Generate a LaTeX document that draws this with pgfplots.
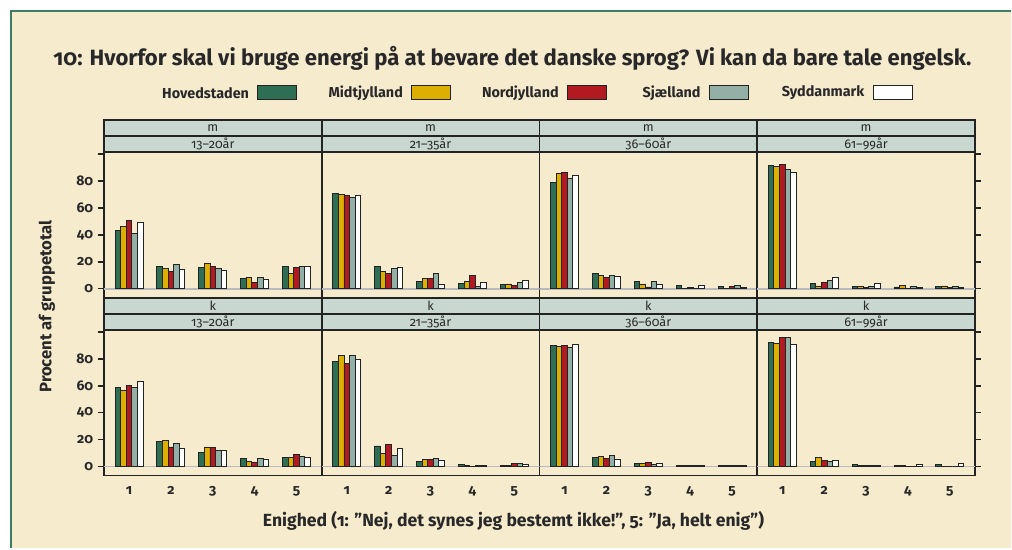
\documentclass[border=0pt]{standalone}
\usepackage{pgfplots}
\pgfplotsset{compat=1.18}
\usepackage{pgfplotstable}
\usepackage{fontspec}
\setmainfont{Fira Sans}[Numbers=OldStyle]

\definecolor{bg}{RGB}{247,235,206}
\definecolor{frame}{RGB}{62,125,100}
\definecolor{cH}{RGB}{46,110,85}
\definecolor{cM}{RGB}{221,176,0}
\definecolor{cN}{RGB}{176,26,32}
\definecolor{cS}{RGB}{146,176,166}
\definecolor{cY}{RGB}{255,255,255}
\definecolor{strip}{RGB}{200,216,208}
\definecolor{ax}{RGB}{35,35,35}
\definecolor{txt}{RGB}{40,40,40}
\definecolor{zl}{RGB}{185,185,190}

\pgfplotstableread{
x H M N S Y
1 43.5 46 50.5 41 49
2 16.75 14.75 12.5 17.75 14
3 15.75 18.75 16.25 15.25 13.5
4 7.5 8.5 4.75 8.5 6.5
5 16.25 11 15.5 16.5 16.5
}\mA
\pgfplotstableread{
x H M N S Y
1 71 70.25 69 67.75 69.25
2 16.25 12.75 11 14.75 16
3 5.5 7.5 7.25 11 3.5
4 3.75 5.5 10 1.75 4.75
5 3 3.5 2.25 4.5 6
}\mB
\pgfplotstableread{
x H M N S Y
1 79 85.75 86.25 82.25 84.25
2 11 9.5 8.5 9.5 9
3 5.25 3.5 1.25 5.5 3.25
4 2.5 0.5 1 0.5 2.25
5 1.75 0 1.75 2.5 1
}\mC
\pgfplotstableread{
x H M N S Y
1 91.75 90.75 92.5 88.25 86.25
2 3.75 2 4.25 6.25 8.5
3 1.5 1.75 1 1.75 3.75
4 1.25 2.5 0 1.75 0.75
5 1.5 2 1 1.75 0.75
}\mD
\pgfplotstableread{
x H M N S Y
1 58.5 56.75 60.25 58.75 63.25
2 18.25 19 14.5 17.25 13.75
3 10.25 14.5 14.25 11.75 11.75
4 6 3.75 3.25 5.75 5
5 6.75 7 8.75 7.5 6.5
}\kA
\pgfplotstableread{
x H M N S Y
1 78 82.75 76.75 82.25 79.25
2 15.25 10 16 8 13.25
3 3.5 5.25 5.25 6.25 4.75
4 1.75 0.75 0 0.5 1
5 1 1 2 2.5 1.75
}\kB
\pgfplotstableread{
x H M N S Y
1 89.75 89.5 89.75 88.5 90.5
2 6.75 7.5 6 8 5.5
3 2.25 2.25 3.25 1.75 2.5
4 0.5 0.5 0.5 1 0.75
5 0.75 0.5 0.75 1 1
}\kC
\pgfplotstableread{
x H M N S Y
1 92.25 91.25 95.75 95.75 91
2 3.5 6.75 4.5 3.5 4.75
3 1.25 1 0.5 0.75 0.75
4 0.5 0.5 0.25 0.25 1.5
5 1.75 0 0 0 2
}\kD

\pgfplotsset{
 panel/.style={
  scale only axis, width=163.5pt, height=109.5pt, anchor=north west,
  xmin=0.4, xmax=5.6, ymin=-6.7, ymax=101.7,
  axis line style={line width=1.4pt, color=ax},
  ybar, bar width=0.1336,
  ytick={0,20,40,60,80,100}, yticklabels={0,20,40,60,80,{}},
  tick align=outside, major tick length=4.5pt,
  every tick/.style={line width=1.2pt, color=ax},
  xtick={1,2,3,4,5}, xticklabels={1,2,3,4,5},
  x tick style={draw=none},
  ticklabel style={font=\fontsize{10.5}{12}\selectfont\bfseries, text=txt},
  /pgf/number format/assume math mode=true,
  every axis plot/.append style={draw=ax, line width=0.7pt},
 },
 top/.style={xtick=\empty},
 c1/.style={ytick pos=left},
 cm/.style={ytick=\empty},
 c4/.style={ytick pos=right, yticklabels={}},
}

\newcommand{\panel}[4]{%
\begin{axis}[panel, at={({#1*0.75pt},{-#2*0.75pt})}, #4]
\draw[zl, line width=1.3pt] (axis cs:0.4,0) -- (axis cs:5.6,0);
\addplot[fill=cH, bar shift=-0.2672] table[x=x,y=H]{#3};
\addplot[fill=cM, bar shift=-0.1336] table[x=x,y=M]{#3};
\addplot[fill=cN, bar shift=0] table[x=x,y=N]{#3};
\addplot[fill=cS, bar shift=0.1336] table[x=x,y=S]{#3};
\addplot[fill=cY, bar shift=0.2672] table[x=x,y=Y]{#3};
\end{axis}}

\begin{document}
\begin{tikzpicture}[x=0.75pt,y=-0.75pt]
\fill[white] (0,0) rectangle (1012,549);
\fill[bg] (10,10) rectangle (1012,549);
\draw[frame, line width=1.6pt] (11,549) -- (11,11) -- (1012,11);

\node[font=\fontsize{16.6}{19}\selectfont\bfseries, text=txt] at (513,58)
 {10: Hvorfor skal vi bruge energi på at bevare det danske sprog? Vi kan da bare tale engelsk.};

% legend
\foreach \xl/\c/\n in {258/cH/Hovedstaden, 412/cM/Midtjylland, 568/cN/Nordjylland, 710/cS/Sjælland, 874/cY/Syddanmark}{
  \fill[\c, draw=ax, line width=0.8pt] (\xl,86) rectangle ++(39,14);
  \node[anchor=east, font=\fontsize{10.8}{12}\selectfont\bfseries, text=txt] at (\xl-4,93) {\n};
}

\panel{104}{152}{\mA}{top,c1}
\panel{322}{152}{\mB}{top,cm}
\panel{540}{152}{\mC}{top,cm}
\panel{758}{152}{\mD}{top,c4}
\panel{104}{330}{\kA}{c1}
\panel{322}{330}{\kB}{cm}
\panel{540}{330}{\kC}{cm}
\panel{758}{330}{\kD}{c4}

% strips
\foreach \xl/\ag in {104/13–20år, 322/21–35år, 540/36–60år, 758/61–99år}{
  \filldraw[fill=strip, draw=ax, line width=1.4pt] (\xl,120) rectangle ++(218,16);
  \filldraw[fill=strip, draw=ax, line width=1.4pt] (\xl,136) rectangle ++(218,16);
  \filldraw[fill=strip, draw=ax, line width=1.4pt] (\xl,298) rectangle ++(218,16);
  \filldraw[fill=strip, draw=ax, line width=1.4pt] (\xl,314) rectangle ++(218,16);
  \node[font=\fontsize{9.5}{10}\selectfont, text=txt] at (\xl+109,128) {m};
  \node[font=\fontsize{9.5}{10}\selectfont, text=txt] at (\xl+109,144) {\ag};
  \node[font=\fontsize{9.5}{10}\selectfont, text=txt] at (\xl+109,306) {k};
  \node[font=\fontsize{9.5}{10}\selectfont, text=txt] at (\xl+109,322) {\ag};
}

\node[rotate=90, font=\fontsize{12.5}{14}\selectfont\bfseries, text=txt] at (47,307) {Procent af gruppetotal};
\node[font=\fontsize{13.2}{15}\selectfont\bfseries, text=txt] at (514,521) {Enighed (1: \symbol{"22}Nej, det synes jeg bestemt ikke!\symbol{"22}, 5: \symbol{"22}Ja, helt enig\symbol{"22})};
\end{tikzpicture}
\end{document}
